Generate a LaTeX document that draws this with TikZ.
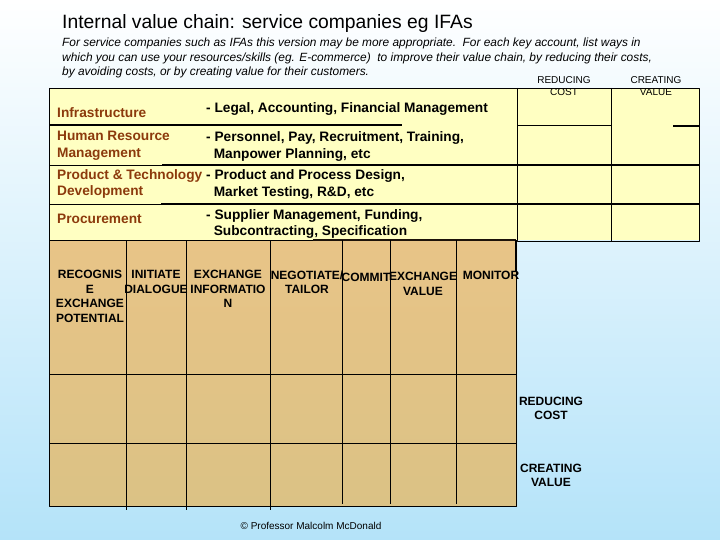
\documentclass[tikz,border=0pt]{standalone}
\usepackage{fontspec}
\setmainfont{Liberation Sans}
\usetikzlibrary{positioning}
\definecolor{skyblue}{HTML}{B4E3F9}
\definecolor{paleyellow}{HTML}{FFFFC2}
\definecolor{tantop}{HTML}{E8C487}
\definecolor{tanbot}{HTML}{DBC285}
\definecolor{rust}{HTML}{8C3A0C}
\begin{document}
\begin{tikzpicture}[x=1pt,y=-1pt,line join=round,
  lbl/.style={anchor=base west,inner sep=0,text=rust,font=\fontsize{13.7}{16.5}\selectfont\bfseries,align=left},
  dsc/.style={anchor=base west,inner sep=0,font=\fontsize{13.7}{16.5}\selectfont\bfseries,align=left},
  hdr/.style={anchor=base,inner sep=0,align=center,font=\fontsize{12}{14.5}\selectfont\bfseries},
  tag/.style={anchor=base,inner sep=0,align=center,font=\fontsize{10}{11.7}\selectfont},
  rule/.style={line width=0.9pt},
  heavy/.style={line width=2pt}]
\def\xl{49} \def\xm{517} \def\xv{611} \def\xr{699}
\def\yt{88} \def\yb{240} \def\ye{506}
\shade[top color=white,bottom color=skyblue] (0,0) rectangle (720,540);
\useasboundingbox (0,0) rectangle (720,540);
% titles (base anchor = last line)
\node[anchor=base west,inner sep=0,font=\fontsize{19.3}{22}\selectfont] (title) at (62,29)
  {Internal value chain: service companies eg IFAs};
\node[anchor=base west,inner sep=0,align=left,font=\fontsize{11.9}{14.5}\selectfont\itshape] (intro) at (62,76)
  {For service companies such as IFAs this version may be more appropriate.\ \ For each key account, list ways in\\
   which you can use your resources/skills (eg. E-commerce)\ \ to improve their value chain, by reducing their costs,\\
   by avoiding costs, or by creating value for their customers.};
% support activities
\fill[paleyellow] (\xl,\yt) rectangle (\xr,\yb);
\draw[rule] (\xl,\yt) -- (\xr,\yt) -- (\xr,241) -- (\xm,241);
\draw[rule] (\xl,\yt) -- (\xl,\yb);
\draw[rule] (\xm,\yt) -- (\xm,241) (\xv,\yt) -- (\xv,241);
\draw[heavy] (\xl,125) -- (402,125);
\draw[rule] (\xm,125) -- (\xv,125);
\draw[heavy] (673,126) -- (\xr,126);
\draw[rule] (\xl,165) -- (162,165);
\draw[heavy] (162,165) -- (\xr,165);
\draw[rule] (\xl,204) -- (161,204);
\draw[heavy] (161,204) -- (\xr,204);
\node[tag] (rc) at (564,95.7) {REDUCING\\COST};
\node[tag] (cv) at (656,95.7) {CREATING\\VALUE};
\node[lbl] (infra) at (57,118) {Infrastructure};
\node[lbl] (hrm) at (57,157.5) {Human Resource\\Management};
\node[lbl] (ptd) at (57,196) {Product \& Technology\\Development};
\node[lbl] (proc) at (57,224) {Procurement};
\node[dsc] (legal) at (206,113) {- Legal, Accounting, Financial Management};
\node[dsc] (pers) at (206,158.5) {- Personnel, Pay, Recruitment, Training,\\\ \ Manpower Planning, etc};
\node[dsc] (prod) at (206,196.5) {- Product and Process Design,\\\ \ Market Testing, R\&D, etc};
\node[dsc] (supp) at (206,235.5) {- Supplier Management, Funding,\\\ \ Subcontracting, Specification};
% primary activities
\shade[top color=tantop,bottom color=tanbot] (\xl,\yb) rectangle (\xm,\ye);
\draw[rule] (\xl,\yb) -- (313,\yb);
\draw[heavy,draw=black!85!brown] (313,\yb) -- (516,\yb);
\draw[rule] (\xl,\yb) -- (\xl,\ye) -- (516,\ye) -- (516,\yb);
\draw[heavy] (516,\yb) -- (516,272);
\draw[rule] (\xl,374) -- (516,374) (\xl,443) -- (516,443);
\foreach \cx in {126,186,270} \draw[rule] (\cx,\yb) -- (\cx,510);
\foreach \cx in {342,390,456} \draw[rule] (\cx,\yb) -- (\cx,504);
\node[hdr] (recog) at (90,322) {RECOGNIS\\E\\EXCHANGE\\POTENTIAL};
\node[hdr] (init) at (156,293) {INITIATE\\DIALOGUE};
\node[hdr] (info) at (228,307.5) {EXCHANGE\\INFORMATIO\\N};
\node[hdr] (nego) at (307,293.5) {NEGOTIATE/\\TAILOR};
\node[hdr] (commit) at (366,281.5) {COMMIT};
\node[hdr] (value) at (423,295) {EXCHANGE\\VALUE};
\node[hdr] (monit) at (491,279) {MONITOR};
\node[hdr,font=\fontsize{12}{14}\selectfont\bfseries] (rc2) at (551,419.5) {REDUCING\\COST};
\node[hdr,font=\fontsize{12}{14}\selectfont\bfseries] (cv2) at (551,486) {CREATING\\VALUE};
\node[anchor=base,inner sep=0,font=\fontsize{10}{12}\selectfont] (copy) at (311,529)
  {\textcopyright\ Professor Malcolm McDonald};
\end{tikzpicture}
\end{document}
